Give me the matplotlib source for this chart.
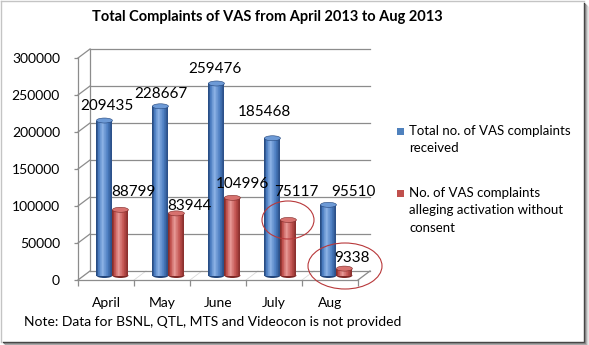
import numpy as np
import matplotlib
matplotlib.use("Agg")
import matplotlib.pyplot as plt
from matplotlib.patches import Rectangle, Ellipse
from matplotlib.lines import Line2D
from matplotlib.colors import to_rgb

plt.rcParams['font.family'] = ['Lato', 'DejaVu Sans']

months = ["April", "May", "June", "July", "Aug"]
total_complaints = [209435, 228667, 259476, 185468, 95510]
without_consent = [88799, 83944, 104996, 75117, 9338]
y_ticks = [0, 50000, 100000, 150000, 200000, 250000, 300000]

W, H = 589, 345
fig = plt.figure(figsize=(W / 100, H / 100), dpi=100)


def fx(px):
    return px / W


def fy(py):
    return 1 - py / H


# front plane of the plot box
x_left, x_right, y_top, y_bottom = 78, 358, 58, 280
ax = fig.add_axes([fx(x_left), fy(y_bottom), (x_right - x_left) / W, (y_bottom - y_top) / H])
ax.set_xlim(-0.5, 4.5)
ax.set_ylim(0, 300000)
ax.patch.set_visible(False)

px_x = (x_right - x_left) / 5.0          # pixels per category
px_y = (y_bottom - y_top) / 300000.0     # pixels per unit
DX = 12 / px_x                           # depth offset in data units
DY = 9 / px_y

grid_c = "#8c8c8c"
for s in ["top", "right"]:
    ax.spines[s].set_visible(False)
for s in ["left", "bottom"]:
    ax.spines[s].set_color(grid_c)
    ax.spines[s].set_linewidth(0.9)

ax.set_yticks(y_ticks)
ax.set_yticklabels([str(v) for v in y_ticks])
ax.set_xticks(range(len(months)))
ax.set_xticklabels(months)
ax.set_xticks(np.arange(-0.5, 5.0, 1.0), minor=True)
ax.tick_params(axis="x", which="major", length=0, pad=12, labelsize=10)
ax.tick_params(axis="x", which="minor", length=4, color=grid_c, width=0.9)
ax.tick_params(axis="y", length=3, color=grid_c, width=0.9, pad=10, labelsize=10)

# back wall gridlines, left wall and floor
for v in y_ticks:
    ax.plot([-0.5 + DX, 4.5 + DX], [v + DY, v + DY], color=grid_c, lw=0.9, clip_on=False, zorder=1)
    ax.plot([-0.5, -0.5 + DX], [v, v + DY], color=grid_c, lw=0.9, clip_on=False, zorder=1)
ax.plot([-0.5 + DX, -0.5 + DX], [DY, 300000 + DY], color=grid_c, lw=0.9, clip_on=False, zorder=1)
ax.plot([4.5, 4.5 + DX], [0, DY], color=grid_c, lw=0.9, clip_on=False, zorder=1)
for k in np.arange(-0.5, 5.0, 1.0):
    ax.plot([k, k + DX], [0, DY], color="#d9d9d9", lw=0.6, clip_on=False, zorder=0.5)


def shade(t, dark, base, light):
    d, b, l = map(np.array, map(to_rgb, (dark, base, light)))
    return np.array([np.interp(t, [0, 0.15, 0.38, 0.72, 1], [d[i], b[i], l[i], b[i], d[i]]) for i in range(3)]).T


bw = 16 / px_x
ell_h = 5 / px_y
nstripe = 24
blue = ("#23457a", "#4a7cc0", "#8db3e6", "#6d9ad6")
red = ("#7d2826", "#c0504d", "#e89a97", "#d7726f")


def cylinder(xc, v, pal):
    dark, base, light, top = pal
    x0 = xc - bw / 2
    y0 = DY / 2
    edges = x0 + np.arange(nstripe) * bw / nstripe
    t = (np.arange(nstripe) + 0.5) / nstripe
    cols = shade(t, dark, base, light)
    ax.add_patch(Ellipse((xc, y0), bw, ell_h, facecolor=dark, edgecolor="none", zorder=3))
    ax.bar(edges, v, width=bw / nstripe * 1.05, bottom=y0, align="edge", color=cols,
           edgecolor="none", zorder=3.1, clip_on=False)
    ax.add_patch(Ellipse((xc, v + y0), bw, ell_h, facecolor=top, edgecolor=dark, lw=0.4,
                         zorder=3.2, clip_on=False))


blue_x = np.arange(5) - 0.135 + DX / 2
red_x = np.arange(5) + 0.15 + DX / 2
for i in range(5):
    cylinder(blue_x[i], total_complaints[i], blue)
    cylinder(red_x[i], without_consent[i], red)

# value labels (offsets in pixels from the top of each column)
blue_off = [(2, 15), (0, 12), (-2, 14), (-8, 26), (25, 13)]
red_off = [(13, 18), (13, 7), (10, 14), (8, 28), (8, 11)]
for i in range(5):
    ax.annotate(str(total_complaints[i]), (blue_x[i], total_complaints[i] + DY / 2),
                xytext=blue_off[i], textcoords="offset pixels", ha="center", va="center",
                fontsize=11, zorder=5, annotation_clip=False)
    ax.annotate(str(without_consent[i]), (red_x[i], without_consent[i] + DY / 2),
                xytext=red_off[i], textcoords="offset pixels", ha="center", va="center",
                fontsize=11, zorder=5, annotation_clip=False)

# highlight rings
for cx, cy, ew, eh in [(288, 220, 52, 38), (345, 266, 74, 46)]:
    fig.add_artist(Ellipse((fx(cx), fy(cy)), ew / W, eh / H, transform=fig.transFigure,
                           facecolor="none", edgecolor="#b8383a", lw=0.8, zorder=6))

# title and note
fig.text(fx(267), fy(17), "Total Complaints of VAS from April 2013 to Aug 2013",
         ha="center", va="center", fontsize=10.5, fontweight="bold")
fig.text(fx(24), fy(322), "Note: Data for BSNL, QTL, MTS and Videocon is not provided",
         ha="left", va="center", fontsize=10)

# legend
legend_rows = [
    ("#4f81bd", ["Total no. of VAS complaints", "received"], 131),
    ("#c0504d", ["No. of VAS complaints", "alleging activation without", "consent"], 193),
]
for col, lines, ytop in legend_rows:
    fig.add_artist(Rectangle((fx(397), fy(ytop + 3.5)), 7 / W, 7 / H, transform=fig.transFigure,
                             facecolor=col, edgecolor="none"))
    for j, line in enumerate(lines):
        fig.text(fx(409), fy(ytop + j * 17.5), line, ha="left", va="center", fontsize=9.5)

# frame: light top/left edges, dark right/bottom edges with a soft shadow
tf = fig.transFigure
fig.add_artist(Line2D([fx(1), fx(1)], [fy(1), fy(342)], transform=tf, color="#c4c4c4", lw=1))
fig.add_artist(Line2D([fx(1), fx(584)], [fy(1), fy(1)], transform=tf, color="#c4c4c4", lw=1))
for k, c in enumerate(["#3a3a3a", "#7a7a7a", "#a8a8a8", "#cfcfcf", "#e6e6e6"]):
    fig.add_artist(Line2D([fx(584 + k), fx(584 + k)], [fy(1 + k + 2), fy(342 + k)], transform=tf,
                          color=c, lw=1))
    if k < 3:
        fig.add_artist(Line2D([fx(1 + k + 2), fx(584 + k)], [fy(342 + k), fy(342 + k)], transform=tf,
                              color=c, lw=1))

fig.savefig("out.png", dpi=100)
